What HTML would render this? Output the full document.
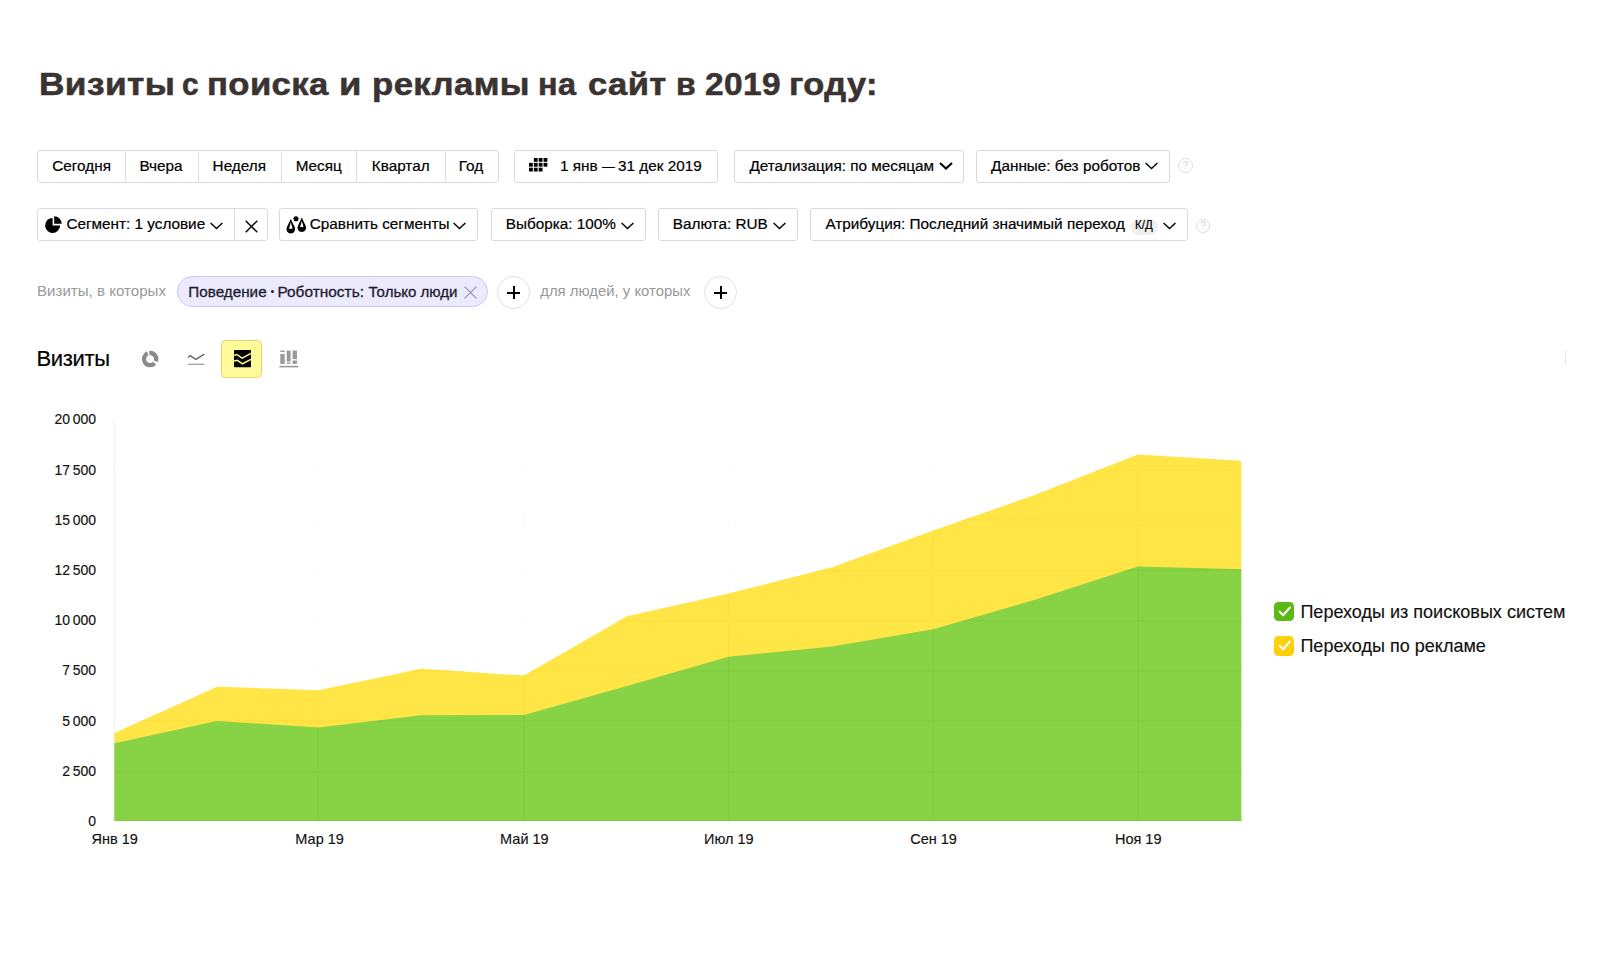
<!DOCTYPE html>
<html lang="ru">
<head>
<meta charset="utf-8">
<title>Визиты с поиска и рекламы на сайт в 2019 году</title>
<style>
html,body{margin:0;padding:0;background:#fff;}
body{width:1600px;height:969px;position:relative;overflow:hidden;font-family:"Liberation Sans",sans-serif;color:#000;}
.abs{position:absolute;}
h1{position:absolute;margin:0;left:0;top:65.9px;width:900px;height:36px;font:bold 32px/36px "Liberation Sans",sans-serif;color:#3a3331;white-space:nowrap;letter-spacing:0.35px;-webkit-text-stroke:0.55px #3a3331;}
h1 span{position:absolute;top:0;transform-origin:0 0;}
.btn{position:absolute;box-sizing:border-box;border:1px solid #dadada;border-radius:3px;background:#fff;height:33px;}
.r1{top:150px;}
.r2{top:208px;}
.sep{position:absolute;top:0;width:1px;height:31px;background:#dedede;}
.t{position:absolute;white-space:nowrap;font-size:15.3px;line-height:20px;color:#000;-webkit-text-stroke:0.2px currentColor;}
.r1t{top:155.7px;}
.pt{top:281.6px;color:#1c1c2b;-webkit-text-stroke:0.3px #1c1c2b;}
.r2t{top:213.7px;}
.g{color:#999;-webkit-text-stroke:0;}
svg{position:absolute;overflow:visible;}
.help{position:absolute;width:13px;height:13px;border:1px solid #dcdcdc;border-radius:50%;color:#d6d6d6;font-size:10px;line-height:13px;text-align:center;}
.pill{position:absolute;left:177px;top:276px;width:311px;height:31px;box-sizing:border-box;border:1px solid #c9c7f7;border-radius:16px;background:#eceaff;}
.plus{position:absolute;width:33px;height:33px;box-sizing:border-box;border:1px solid #e0e0e0;border-radius:50%;background:#fff;}
.plus:before,.plus:after{content:"";position:absolute;background:#000;}
.plus:before{left:9px;top:14.5px;width:13px;height:2px;}
.plus:after{left:14.5px;top:9px;width:2px;height:13px;}
.ax{font-size:14px;line-height:20px;position:absolute;white-space:nowrap;color:#111;-webkit-text-stroke:0.15px #111;}
.yl{text-align:right;width:60px;left:36px;word-spacing:-1.3px;}
.xl{text-align:center;width:80px;top:828.6px;font-size:14.5px;}
.lg{position:absolute;white-space:nowrap;font-size:18.05px;line-height:24px;left:1300.4px;color:#111;-webkit-text-stroke:0.15px #111;}
.cb{position:absolute;left:1274px;width:19.5px;height:19.5px;border-radius:4.5px;}
</style>
</head>
<body>
<h1><span style="left:39.04px;transform:scaleX(1.1029)">Визиты</span> <span style="left:181.62px;transform:scaleX(0.9300)">с</span> <span style="left:207.33px;transform:scaleX(1.0841)">поиска</span> <span style="left:339.22px;transform:scaleX(1.1400)">и</span> <span style="left:371.58px;transform:scaleX(1.0869)">рекламы</span> <span style="left:538.47px;transform:scaleX(1.0139)">на</span> <span style="left:588.42px;transform:scaleX(1.0810)">сайт</span> <span style="left:676.00px;transform:scaleX(1.0000)">в</span> <span style="left:705.45px;transform:scaleX(1.0457)">2019</span> <span style="left:788.95px;transform:scaleX(1.0766)">году:</span></h1>

<!-- row 1 -->
<div class="btn r1" style="left:37px;width:462px;">
  <div class="sep" style="left:87px"></div>
  <div class="sep" style="left:160px"></div>
  <div class="sep" style="left:243px"></div>
  <div class="sep" style="left:318px"></div>
  <div class="sep" style="left:407px"></div>
</div>
<span class="t r1t" style="left:52.3px">Сегодня</span>
<span class="t r1t" style="left:139.4px">Вчера</span>
<span class="t r1t" style="left:212.6px">Неделя</span>
<span class="t r1t" style="left:295.7px">Месяц</span>
<span class="t r1t" style="left:371.8px">Квартал</span>
<span class="t r1t" style="left:458.8px">Год</span>

<div class="btn r1" style="left:514px;width:204px;"></div>
<svg style="left:529.4px;top:158.1px" width="19" height="14" viewBox="0 0 19 14">
  <g fill="#000">
    <rect x="4.85" y="0" width="3.8" height="3.8"/><rect x="9.7" y="0" width="3.8" height="3.8"/><rect x="14.55" y="0" width="3.8" height="3.8"/>
    <rect x="0" y="4.85" width="3.8" height="3.8"/><rect x="4.85" y="4.85" width="3.8" height="3.8"/><rect x="9.7" y="4.85" width="3.8" height="3.8"/><rect x="14.55" y="4.85" width="3.8" height="3.8"/>
    <rect x="0" y="9.7" width="3.8" height="3.8"/><rect x="4.85" y="9.7" width="3.8" height="3.8"/><rect x="9.7" y="9.7" width="3.8" height="3.8"/>
  </g>
</svg>
<span class="t r1t" style="left:559.9px">1 янв</span><span class="t r1t" style="left:602.3px;transform:scaleX(0.84);transform-origin:0 0">—</span><span class="t r1t" style="left:618px">31 дек 2019</span>

<div class="btn r1" style="left:734px;width:229.5px;"></div>
<span class="t r1t" style="left:749.4px">Детализация: по месяцам</span>
<svg style="left:938.5px;top:162px" width="14" height="8" viewBox="0 0 14 8"><path d="M1 1 L7 6.6 L13 1" fill="none" stroke="#000" stroke-width="2"/></svg>

<div class="btn r1" style="left:976px;width:194px;"></div>
<span class="t r1t" style="left:991.1px">Данные: без роботов</span>
<svg style="left:1145px;top:162px" width="13" height="8" viewBox="0 0 13 8"><path d="M0.6 0.9 L6.5 6.6 L12.4 0.9" fill="none" stroke="#000" stroke-width="1.4"/></svg>
<div class="help" style="left:1178px;top:158px;">?</div>

<!-- row 2 -->
<div class="btn r2" style="left:37px;width:230.5px;">
  <div class="sep" style="left:196px"></div>
</div>
<svg style="left:45px;top:216.4px" width="17" height="17" viewBox="0 0 17 17">
  <path d="M7.6 1.9 A7.5 7.5 0 1 0 15.1 9.4 L7.6 9.4 Z" fill="#000"/>
  <path d="M9.2 0.2 A7.5 7.5 0 0 1 16.7 7.7 L9.2 7.7 Z" fill="#000"/>
</svg>
<span class="t r2t" style="left:66.4px">Сегмент: 1 условие</span>
<svg style="left:210.3px;top:221.6px" width="13" height="8" viewBox="0 0 13 8"><path d="M0.6 0.9 L6.5 6.6 L12.4 0.9" fill="none" stroke="#000" stroke-width="1.4"/></svg>
<svg style="left:245px;top:220px" width="13" height="13" viewBox="0 0 13 13"><path d="M0.7 0.7 L12.3 12.3 M12.3 0.7 L0.7 12.3" fill="none" stroke="#000" stroke-width="1.4"/></svg>

<div class="btn r2" style="left:279px;width:199px;"></div>
<svg style="left:285.6px;top:216px" width="21" height="18" viewBox="0 0 21 18">
  <path d="M4.8 3 L8.75 11.2 A4.4 4.4 0 1 1 0.85 11.2 Z M4.8 6.3 L3 12.8 L6.6 12.8 Z" fill="#000" fill-rule="evenodd"/>
  <path d="M15.8 1.5 L19.6 9.7 A4.3 4.3 0 1 1 12 9.7 Z M15.8 4.9 L14.1 11 L17.5 11 Z" fill="#000" fill-rule="evenodd"/>
  <circle cx="10" cy="2.8" r="2.55" fill="#000"/>
</svg>
<span class="t r2t" style="left:309.8px">Сравнить сегменты</span>
<svg style="left:453.2px;top:221.6px" width="13" height="8" viewBox="0 0 13 8"><path d="M0.6 0.9 L6.5 6.6 L12.4 0.9" fill="none" stroke="#000" stroke-width="1.4"/></svg>

<div class="btn r2" style="left:491px;width:155px;"></div>
<span class="t r2t" style="left:505.7px">Выборка: 100%</span>
<svg style="left:620.6px;top:221.6px" width="13" height="8" viewBox="0 0 13 8"><path d="M0.6 0.9 L6.5 6.6 L12.4 0.9" fill="none" stroke="#000" stroke-width="1.4"/></svg>

<div class="btn r2" style="left:658px;width:140px;"></div>
<span class="t r2t" style="left:672.8px">Валюта: RUB</span>
<svg style="left:773.4px;top:221.6px" width="13" height="8" viewBox="0 0 13 8"><path d="M0.6 0.9 L6.5 6.6 L12.4 0.9" fill="none" stroke="#000" stroke-width="1.4"/></svg>

<div class="btn r2" style="left:810px;width:378px;"></div>
<span class="t r2t" style="left:825.4px">Атрибуция: Последний значимый переход</span>
<div class="abs" style="left:1131px;top:218.5px;width:26.5px;height:16px;border-radius:8px;background:#efefef;"></div>
<span class="t" style="left:1134.6px;top:215.4px;font-size:13.6px;transform:scaleX(0.85);transform-origin:0 0;-webkit-text-stroke:0.2px #000;">К/Д</span>
<svg style="left:1163px;top:221.6px" width="13" height="8" viewBox="0 0 13 8"><path d="M0.6 0.9 L6.5 6.6 L12.4 0.9" fill="none" stroke="#000" stroke-width="1.4"/></svg>
<div class="help" style="left:1196px;top:219px;width:12px;height:12px;line-height:12px;">?</div>

<!-- filter row -->
<span class="t g" style="left:37px;top:280.9px;font-size:15.1px;">Визиты, в которых</span>
<div class="pill"></div>
<span class="t pt" style="left:188.3px;font-size:15.25px;">Поведение</span>
<span class="abs" style="left:271.3px;top:289.6px;width:3px;height:3px;border-radius:50%;background:#1f1f2e;"></span>
<span class="t pt" style="left:277.4px;font-size:15.45px;">Роботность:</span><span class="t pt" style="left:368.6px;font-size:15.05px;">Только люди</span>
<svg style="left:464.4px;top:286.2px" width="13" height="13" viewBox="0 0 13 13"><path d="M0.6 0.6 L12.4 12.4 M12.4 0.6 L0.6 12.4" fill="none" stroke="#8f8fb0" stroke-width="1.1"/></svg>
<div class="plus" style="left:497px;top:276px;"></div>
<span class="t g" style="left:540.2px;top:280.9px;font-size:14.9px;">для людей, у которых</span>
<div class="plus" style="left:704px;top:276px;"></div>

<!-- heading + chart type icons -->
<span class="t" style="left:36.4px;top:344.2px;font-size:22px;line-height:30px;letter-spacing:-0.3px;">Визиты</span>
<svg style="left:140px;top:349px" width="20" height="20" viewBox="0 0 20 20">
  <g fill="none" stroke="#8a8a8a" stroke-width="4.3">
    <path d="M7.7 4.3 A6.2 6.2 0 1 0 14.6 14.3"/>
    <path d="M9.4 3.9 A6.2 6.2 0 0 1 15.8 12.2"/>
  </g>
</svg>
<svg style="left:187px;top:352px" width="19" height="14" viewBox="0 0 19 14">
  <path d="M1.2 5.6 L3.2 3.7 L8.8 7.4 L17.3 2.1" fill="none" stroke="#666" stroke-width="1.4"/>
  <path d="M1.1 12.3 L17.4 12.3" fill="none" stroke="#999" stroke-width="1.2"/>
</svg>
<div class="abs" style="left:221px;top:340px;width:41px;height:38px;box-sizing:border-box;border:1px solid #edd06c;border-radius:4.5px;background:#fffb9a;"></div>
<svg style="left:234px;top:350.3px" width="17" height="17.2" viewBox="0 0 17 17.2">
  <rect x="0" y="0" width="17" height="17.2" rx="0.8" fill="#000"/>
  <path d="M0 5.4 L2.8 4.5 L8.1 8.1 L17 3.4 M0 11 L3.4 10.3 L8.4 13.8 L17 9.4" fill="none" stroke="#fff39a" stroke-width="1.5"/>
</svg>
<svg style="left:279px;top:349.5px" width="20" height="18" viewBox="0 0 20 18">
  <g fill="#999">
    <rect x="1.3" y="0.5" width="4.4" height="1.5"/><rect x="1.3" y="3.9" width="4.4" height="10"/>
    <rect x="7.7" y="0.5" width="3.9" height="11"/><rect x="7.7" y="12.5" width="3.9" height="1.4"/>
    <rect x="13.6" y="0.5" width="4.4" height="8.7"/><rect x="13.6" y="10.5" width="4.4" height="3.4"/>
    <rect x="0.4" y="15.8" width="18.7" height="1.6"/>
  </g>
</svg>
<div class="abs" style="left:1564.6px;top:350px;width:1px;height:14px;background:#e6e6e6;border-radius:1px;"></div>

<!-- chart -->
<svg id="chart" style="left:0;top:0" width="1600" height="969" viewBox="0 0 1600 969">
  <polygon fill="#ffe545" points="114.5,821 114.5,733 217,686.7 318.3,690.2 421.5,668.8 524,675.6 627,616.3 728.6,593.6 832.2,567.3 933.3,530.6 1035.8,494.6 1137.8,454.5 1241.3,460.8 1241.3,821"/>
  <polygon fill="#88d246" points="114.5,821 114.5,743.3 217,721 318.3,727.4 421.5,715.2 524,715 627,686 728.6,656.8 832.2,646.6 933.3,629.2 1035.8,599.6 1137.8,566.4 1241.3,569.3 1241.3,821"/>
  <defs><clipPath id="ac"><polygon points="114.5,733 217,686.7 318.3,690.2 421.5,668.8 524,675.6 627,616.3 728.6,593.6 832.2,567.3 933.3,530.6 1035.8,494.6 1137.8,454.5 1241.3,460.8 1241.3,569.3 1137.8,566.4 1035.8,599.6 933.3,629.2 832.2,646.6 728.6,656.8 627,686 524,715 421.5,715.2 318.3,727.4 217,721 114.5,743.3"/></clipPath><clipPath id="gc"><polygon points="114.5,821 114.5,743.3 217,721 318.3,727.4 421.5,715.2 524,715 627,686 728.6,656.8 832.2,646.6 933.3,629.2 1035.8,599.6 1137.8,566.4 1241.3,569.3 1241.3,821"/></clipPath></defs>
  <g stroke="#000" stroke-opacity="0.016" stroke-width="1" fill="none">
    <path d="M114.5 419.5V821" stroke-opacity="0.05"/>
    <path d="M318.3 419.5V821M524 419.5V821M728.6 419.5V821M933.3 419.5V821M1137.8 419.5V821"/>
    <path d="M114.5 470.5H1241.3M114.5 520.2H1241.3M114.5 570.4H1241.3M114.5 620.6H1241.3M114.5 670.9H1241.3M114.5 721H1241.3M114.5 771.6H1241.3"/>
  </g>
  <g clip-path="url(#ac)" stroke="#ffdf3e" stroke-width="1.2" fill="none">
    <path d="M318.3 419.5V821M524 419.5V821M728.6 419.5V821M933.3 419.5V821M1137.8 419.5V821"/>
    <path d="M114.5 470.5H1241.3M114.5 520.2H1241.3M114.5 570.4H1241.3M114.5 620.6H1241.3M114.5 670.9H1241.3M114.5 721H1241.3M114.5 771.6H1241.3"/>
  </g>
  <path d="M114.5 820.4H1241.3" stroke="#82cc40" stroke-width="1.2" fill="none"/>
  <g clip-path="url(#gc)" stroke="#82cc40" stroke-width="1.2" fill="none">
    <path d="M318.3 419.5V821M524 419.5V821M728.6 419.5V821M933.3 419.5V821M1137.8 419.5V821"/>
    <path d="M114.5 470.5H1241.3M114.5 520.2H1241.3M114.5 570.4H1241.3M114.5 620.6H1241.3M114.5 670.9H1241.3M114.5 721H1241.3M114.5 771.6H1241.3"/>
  </g>
</svg>
<span class="ax yl" style="top:409.3px">20 000</span>
<span class="ax yl" style="top:459.8px">17 500</span>
<span class="ax yl" style="top:509.7px">15 000</span>
<span class="ax yl" style="top:559.9px">12 500</span>
<span class="ax yl" style="top:610.4px">10 000</span>
<span class="ax yl" style="top:660.4px">7 500</span>
<span class="ax yl" style="top:710.6px">5 000</span>
<span class="ax yl" style="top:761.3px">2 500</span>
<span class="ax yl" style="top:811.2px">0</span>

<span class="ax xl" style="left:74.6px">Янв 19</span>
<span class="ax xl" style="left:279.6px">Мар 19</span>
<span class="ax xl" style="left:484.4px">Май 19</span>
<span class="ax xl" style="left:688.9px">Июл 19</span>
<span class="ax xl" style="left:893.6px">Сен 19</span>
<span class="ax xl" style="left:1098.2px">Ноя 19</span>

<!-- legend -->
<div class="cb" style="top:601.7px;background:#5cb812;"></div>
<svg style="left:1277.5px;top:605.5px" width="13" height="12" viewBox="0 0 13 12"><path d="M1.6 5.6 L5.1 9.3 L11.9 1.5" fill="none" stroke="#fff" stroke-width="2.1" stroke-linecap="round" stroke-linejoin="round"/></svg>
<span class="lg" style="top:600.3px">Переходы из поисковых систем</span>
<div class="cb" style="top:636.2px;background:#ffd008;"></div>
<svg style="left:1277.5px;top:640px" width="13" height="12" viewBox="0 0 13 12"><path d="M1.6 5.6 L5.1 9.3 L11.9 1.5" fill="none" stroke="#fff" stroke-width="2.1" stroke-linecap="round" stroke-linejoin="round"/></svg>
<span class="lg" style="top:634.4px">Переходы по рекламе</span>
</body>
</html>
